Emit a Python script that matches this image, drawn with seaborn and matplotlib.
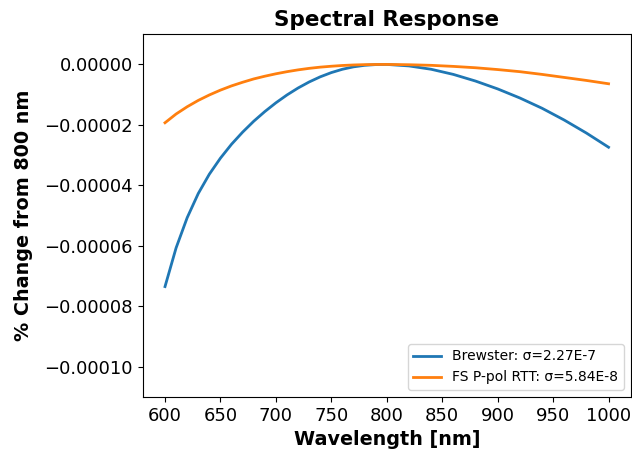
import numpy as np
import pandas as pd
import matplotlib
matplotlib.use("Agg")
import matplotlib.pyplot as plt
import seaborn as sns
from matplotlib.ticker import ScalarFormatter

# Longitudes de onda (nm)
wavelength = [600, 610, 620, 630, 640, 650, 660, 670, 680, 690, 700,
              710, 720, 730, 740, 750, 760, 770, 780, 790, 800,
              820, 840, 860, 880, 900, 920, 940, 960, 980, 1000]

# Cambio porcentual respecto a 800 nm (en unidades de 1e-5)
brewster_e5 = [-7.35, -6.07, -5.07, -4.27, -3.63, -3.10, -2.64, -2.24, -1.88, -1.56, -1.27,
               -1.01, -0.78, -0.58, -0.41, -0.27, -0.16, -0.08, -0.03, -0.005, 0.0,
               -0.05, -0.16, -0.33, -0.55, -0.81, -1.11, -1.45, -1.84, -2.27, -2.74]
fs_ppol_e5 = [-1.93, -1.64, -1.40, -1.19, -1.01, -0.85, -0.71, -0.59, -0.48, -0.39, -0.31,
              -0.24, -0.18, -0.13, -0.09, -0.06, -0.035, -0.018, -0.007, -0.002, 0.0,
              -0.01, -0.03, -0.065, -0.11, -0.17, -0.24, -0.33, -0.43, -0.53, -0.64]

labels = ["Brewster: σ=2.27E-7", "FS P-pol RTT: σ=5.84E-8"]

df = pd.DataFrame({
    "wavelength": wavelength * 2,
    "change": np.array(brewster_e5 + fs_ppol_e5) * 1e-5,
    "serie": [labels[0]] * len(wavelength) + [labels[1]] * len(wavelength),
})

fig, ax = plt.subplots(figsize=(6.32, 4.5), dpi=100)
fig.subplots_adjust(left=0.226, right=0.998, top=0.924, bottom=0.118)

sns.lineplot(data=df, x="wavelength", y="change", hue="serie",
             palette=["#1f77b4", "#ff7f0e"], linewidth=2, ax=ax)

ax.set_ylim(-0.00011, 0.00001)
ax.set_yticks(np.arange(-0.0001, 0.000001, 0.00002))
fmt = ScalarFormatter(useOffset=False)
fmt.set_scientific(False)
ax.yaxis.set_major_formatter(fmt)
ax.tick_params(labelsize=13)

ax.set_xlabel("Wavelength [nm]", fontsize=13.8, fontweight="bold")
ax.set_ylabel("% Change from 800 nm", fontsize=13.8, fontweight="bold", labelpad=8)
ax.set_title("Spectral Response", fontsize=15.5, fontweight="bold")
ax.legend(loc="lower right", fontsize=10, title=None)

fig.savefig("out.png", dpi=100)
